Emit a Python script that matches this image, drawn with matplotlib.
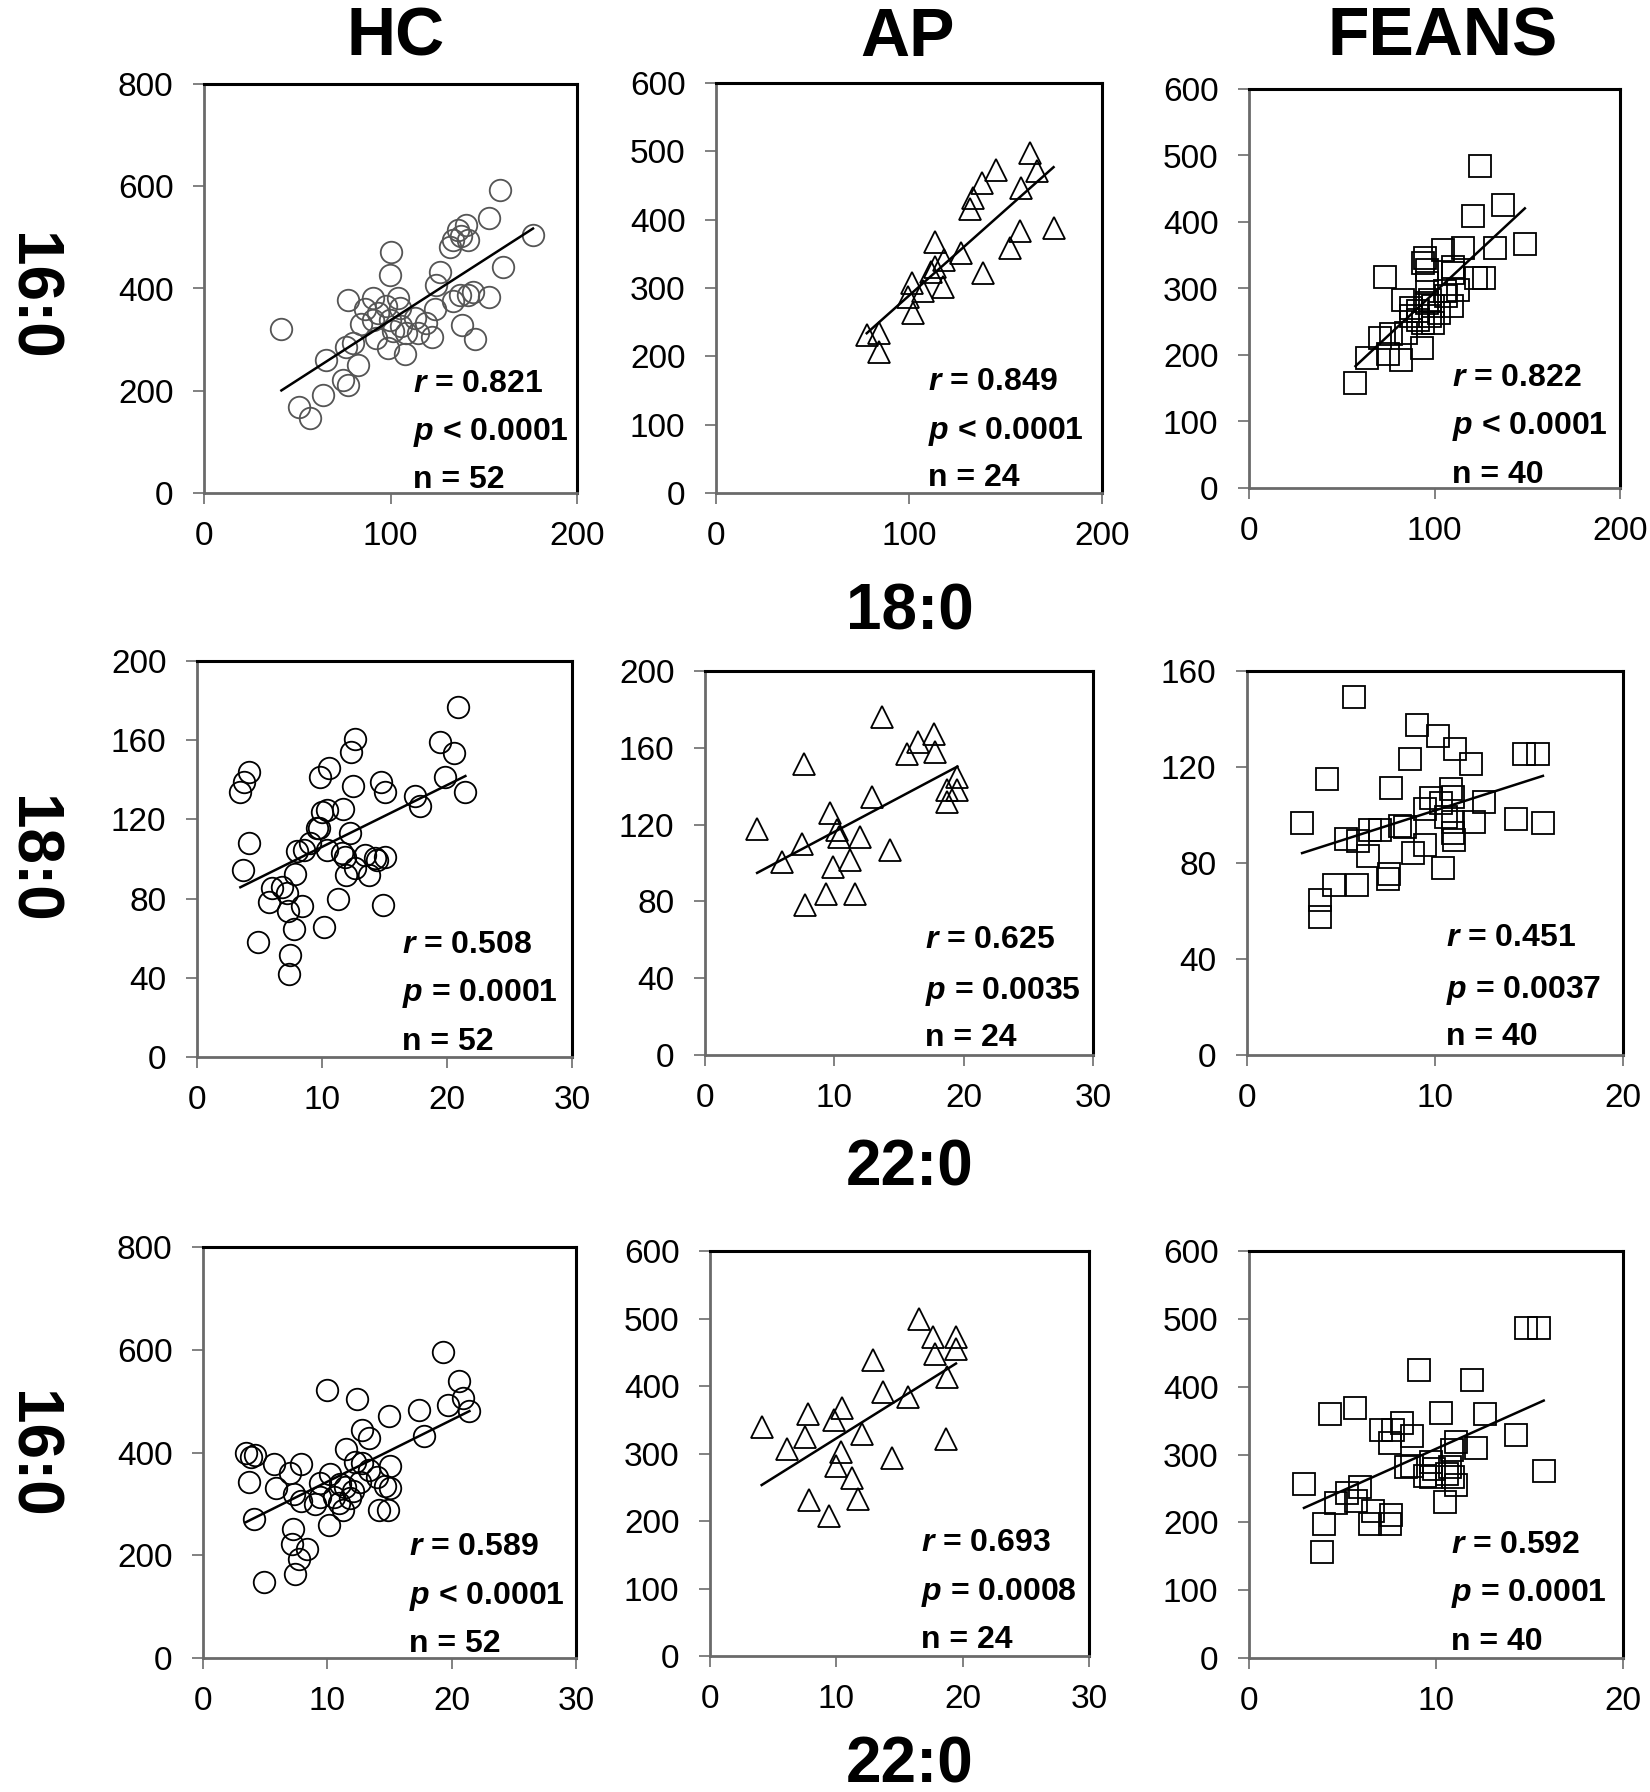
import numpy as np
import matplotlib
matplotlib.use("Agg")
import matplotlib.pyplot as plt

plt.rcParams['font.family'] = ['Liberation Sans', 'DejaVu Sans']
plt.rcParams['mathtext.fontset'] = 'custom'
plt.rcParams['mathtext.it'] = 'Liberation Sans:italic:bold'
plt.rcParams['mathtext.rm'] = 'Liberation Sans:bold'

# ---------------- data ----------------
col_titles = ["HC", "AP", "FEANS"]
row_labels = ["16:0", "18:0", "16:0"]
between_labels = ["18:0", "22:0", "22:0"]

# Row 1: 18:0 (x) vs 16:0 (y)
hc1_x = [41.5, 50.9, 57.0, 63.8, 65.2, 74.5, 77.2, 82.6, 76.3, 79.9, 77.2, 84.4, 86.1, 90.6, 92.4, 93.3,
         97.8, 99.5, 98.7, 100.4, 99.5, 104.0, 104.9, 101.3, 105.8, 107.6, 108.5, 113.0, 114.7, 122.4,
         123.7, 124.5, 126.4, 131.7, 133.5, 136.2, 140.7, 138.0, 141.6, 133.5, 137.1, 141.6, 144.2,
         138.5, 145.1, 152.8, 152.8, 158.9, 160.3, 176.4, 119.2, 90.6]
hc1_y = [321, 168, 147, 191, 261, 222, 212, 251, 285, 293, 377, 331, 359, 381, 303, 352,
         365, 339, 284, 471, 426, 381, 362, 316, 326, 271, 313, 342, 313, 306,
         360, 407, 432, 482, 495, 515, 525, 502, 495, 375, 388, 388, 394,
         329, 301, 383, 538, 593, 443, 504, 333, 339]

ap1_x = [78.1, 84.2, 84.7, 99.7, 101.4, 101.9, 107.2, 111.2, 113.4, 113.4, 117.5, 118.2, 126.9, 131.7,
         133.4, 137.8, 138.6, 145.2, 152.4, 157.3, 158.0, 162.8, 166.3, 174.9]
ap1_y = [231, 234, 207, 287, 307, 263, 295, 324, 331, 368, 302, 341, 351, 415,
         431, 453, 322, 473, 358, 383, 446, 497, 471, 388]

fe1_x = [57.4, 63.8, 73.2, 70.5, 75.0, 76.8, 81.8, 83.0, 87.1, 87.2, 93.3, 93.9, 94.8, 95.7, 96.0, 95.7,
         91.2, 91.2, 99.3, 102.5, 97.5, 104.7, 105.6, 109.2, 110.0, 115.6, 106.1, 120.9, 122.3, 124.5,
         126.6, 132.6, 136.7, 148.7, 97.5, 99.3, 93.9, 112.8, 110.0, 84.9]
fe1_y = [158, 196, 318, 226, 201, 231, 193, 283, 271, 258, 211, 338, 346, 328, 308, 278,
         266, 253, 273, 263, 283, 358, 296, 273, 333, 361, 288, 409, 316, 484,
         316, 361, 425, 367, 258, 248, 248, 298, 323, 233]

# Row 2: 22:0 (x) vs 18:0 (y)
hc2_x = [3.65, 3.47, 3.73, 4.19, 4.13, 4.88, 5.73, 6.0, 6.8, 7.2, 7.25, 7.47, 7.39, 7.79, 8.4, 7.87,
         8.0, 9.07, 9.6, 9.87, 10.0, 10.4, 10.59, 10.19, 10.4, 11.25, 11.65, 11.87, 11.95, 12.2,
         12.32, 12.45, 12.67, 12.67, 13.47, 13.73, 14.4, 14.72, 14.88, 15.07, 15.07, 17.47, 17.87,
         19.47, 19.87, 20.53, 20.85, 21.47, 11.6, 8.59, 14.27, 9.73]
hc2_y = [94.5, 133.6, 139.0, 144.0, 108.2, 58.0, 78.2, 85.2, 86.0, 82.7, 73.9, 51.3, 41.8, 64.7, 76.5, 92.4,
         104.2, 107.9, 115.8, 141.5, 123.9, 124.7, 146.2, 65.9, 104.5, 79.7, 125.5, 101.2, 91.9, 112.9,
         153.8, 137.0, 160.8, 95.3, 102.0, 91.9, 99.5, 139.0, 76.8, 133.9, 100.8, 131.8, 126.7,
         159.2, 141.5, 153.3, 176.8, 133.9, 102.9, 104.5, 100.3, 115.5]

ap2_x = [4.03, 5.99, 7.51, 7.67, 7.77, 9.32, 9.66, 9.91, 10.22, 10.38, 11.21, 11.59, 11.98, 12.88,
         13.66, 14.3, 15.6, 16.5, 17.74, 17.79, 18.69, 18.69, 19.52, 19.47]
ap2_y = [117.9, 100.6, 110.1, 151.8, 78.1, 84.1, 125.8, 98.0, 117.1, 113.6, 101.5, 84.1, 113.6, 134.4,
         176.1, 106.7, 157.0, 163.1, 167.0, 157.8, 137.9, 131.8, 144.8, 137.9]

fe2_x = [2.93, 4.26, 3.9, 3.9, 4.63, 5.69, 5.85, 5.25, 5.9, 6.44, 6.52, 7.06, 7.5, 7.55, 7.68, 8.12,
         8.39, 8.69, 8.83, 9.04, 9.45, 9.8, 10.16, 10.43, 10.34, 10.6, 10.87, 11.05, 10.96, 10.96,
         10.99, 10.96, 11.93, 12.06, 12.6, 14.29, 14.72, 15.48, 15.74, 9.45]
fe2_y = [96.7, 115.2, 64.5, 57.6, 70.8, 149.2, 70.8, 89.9, 89.2, 82.8, 93.7, 93.7, 73.5, 75.6, 111.3, 95.3,
         95.0, 123.2, 84.0, 137.3, 87.5, 106.9, 133.1, 78.1, 105.1, 99.2, 111.0, 127.7, 107.6, 97.2,
         89.5, 92.3, 121.4, 97.2, 105.5, 98.5, 125.3, 125.6, 96.7, 102.7]

# Row 3: 22:0 (x) vs 16:0 (y)
hc3_x = [3.46, 3.86, 4.2, 3.67, 4.13, 4.88, 5.73, 5.89, 6.96, 7.2, 7.15, 7.42, 7.69, 7.88, 7.29, 7.9,
         8.36, 9.03, 9.43, 9.97, 10.1, 10.23, 10.5, 10.9, 11.04, 11.3, 11.52, 11.79, 12.03, 12.24,
         12.38, 12.59, 12.78, 12.78, 13.39, 13.39, 13.98, 14.12, 14.65, 14.84, 14.92, 15.0, 15.05,
         17.41, 17.81, 19.34, 19.74, 20.55, 20.89, 21.43, 9.43, 11.44]
hc3_y = [400, 391, 395, 343, 270, 147, 378, 331, 361, 252, 222, 163, 192, 377, 320, 305,
         213, 300, 340, 522, 259, 359, 314, 301, 339, 288, 406, 311, 325, 381,
         504, 343, 444, 379, 428, 366, 353, 288, 335, 288, 472, 330, 374,
         482, 432, 595, 493, 539, 507, 480, 314, 333]

ap3_x = [4.09, 6.12, 7.52, 7.78, 7.86, 9.45, 9.82, 9.95, 10.34, 10.42, 11.21, 11.74, 12.06, 12.93,
         13.72, 14.38, 15.7, 16.54, 17.68, 17.81, 18.65, 18.73, 19.47, 19.47]
ap3_y = [339, 306, 325, 358, 231, 207, 349, 281, 302, 368, 263, 233, 329, 438,
         391, 293, 384, 500, 473, 448, 322, 413, 473, 455]

fe3_x = [2.94, 4.01, 3.92, 4.31, 4.67, 5.24, 5.65, 5.74, 5.92, 6.45, 6.63, 7.08, 7.52, 7.56, 7.58,
         7.7, 8.18, 8.41, 8.73, 8.73, 9.09, 9.39, 9.75, 9.75, 9.88, 10.25, 10.46, 10.59, 10.77,
         10.86, 10.91, 11.09, 11.09, 11.94, 12.16, 12.6, 14.3, 14.8, 15.51, 15.76]
fe3_y = [257, 197, 157, 359, 228, 243, 368, 231, 252, 198, 216, 336, 317, 198, 211,
         336, 346, 282, 328, 283, 425, 269, 267, 289, 278, 361, 230, 271, 281,
         306, 267, 255, 318, 410, 310, 360, 329, 486, 486, 275]

r_values = ["0.821", "0.849", "0.822", "0.508", "0.625", "0.451", "0.589", "0.693", "0.592"]
p_values = ["< 0.0001", "< 0.0001", "< 0.0001", "= 0.0001", "= 0.0035", "= 0.0037",
            "< 0.0001", "= 0.0008", "= 0.0001"]
n_values = ["52", "24", "40", "52", "24", "40", "52", "24", "40"]

panels_x = [hc1_x, ap1_x, fe1_x, hc2_x, ap2_x, fe2_x, hc3_x, ap3_x, fe3_x]
panels_y = [hc1_y, ap1_y, fe1_y, hc2_y, ap2_y, fe2_y, hc3_y, ap3_y, fe3_y]

x_ticks = [[0, 100, 200], [0, 100, 200], [0, 100, 200],
           [0, 10, 20, 30], [0, 10, 20, 30], [0, 10, 20],
           [0, 10, 20, 30], [0, 10, 20, 30], [0, 10, 20]]
y_ticks = [[0, 200, 400, 600, 800], [0, 100, 200, 300, 400, 500, 600], [0, 100, 200, 300, 400, 500, 600],
           [0, 40, 80, 120, 160, 200], [0, 40, 80, 120, 160, 200], [0, 40, 80, 120, 160],
           [0, 200, 400, 600, 800], [0, 100, 200, 300, 400, 500, 600], [0, 100, 200, 300, 400, 500, 600]]

# ---------------- layout (pixels in a 1650x1792 canvas) ----------------
W, H = 1650, 1792
boxes = [  # left, right, top, bottom
    (204, 577, 84, 493), (716, 1102, 83, 493), (1249, 1620, 89, 488),
    (197, 572, 661, 1057), (705, 1093, 671, 1055), (1247, 1623, 671, 1055),
    (203, 576, 1247, 1658), (710, 1089, 1251, 1656), (1249, 1623, 1251, 1658),
]
text_pos = [  # x frac, y frac of r, p, n lines
    (0.56, 0.267, 0.147, 0.032), (0.55, 0.271, 0.149, 0.036), (0.546, 0.276, 0.154, 0.033),
    (0.547, 0.283, 0.161, 0.039), (0.567, 0.299, 0.165, 0.043), (0.528, 0.304, 0.169, 0.048),
    (0.551, 0.27, 0.149, 0.035), (0.558, 0.278, 0.158, 0.039), (0.541, 0.277, 0.158, 0.039),
]
markers = ['o', '^', 's'] * 3
edge_cols = ['#555555', 'black', 'black'] + ['black'] * 6

fig = plt.figure(figsize=(W / 100, H / 100), dpi=100)
for i in range(9):
    l, r, t, b = boxes[i]
    ax = fig.add_axes([l / W, 1 - b / H, (r - l) / W, (b - t) / H])
    x = np.array(panels_x[i], dtype=float)
    y = np.array(panels_y[i], dtype=float)
    ax.plot(x, y, linestyle='none', marker=markers[i], markersize=16 if markers[i] != 'o' else 15.5,
            markerfacecolor='none', markeredgecolor=edge_cols[i], markeredgewidth=1.3, clip_on=False)
    k, c = np.polyfit(x, y, 1)
    xl = np.array([x.min(), x.max()])
    ax.plot(xl, k * xl + c, color='black', lw=1.8)
    ax.set_xlim(x_ticks[i][0], x_ticks[i][-1])
    ax.set_ylim(y_ticks[i][0], y_ticks[i][-1])
    ax.set_xticks(x_ticks[i])
    ax.set_yticks(y_ticks[i])
    ax.tick_params(axis='both', direction='out', length=8, width=1.3, color='#777777',
                   labelsize=24, labelcolor='black')
    ax.tick_params(axis='y', pad=14)
    ax.tick_params(axis='x', pad=12)
    for s in ['left', 'bottom']:
        ax.spines[s].set_color('#6a6a6a')
        ax.spines[s].set_linewidth(2)
    for s in ['top', 'right']:
        ax.spines[s].set_color('black')
        ax.spines[s].set_linewidth(2.2)
    tx, ry, py, ny = text_pos[i]
    ax.text(tx, ry, "$r$ = " + r_values[i], transform=ax.transAxes, fontsize=23,
            fontweight='bold', va='center', ha='left')
    ax.text(tx, py, "$p$ " + p_values[i], transform=ax.transAxes, fontsize=23,
            fontweight='bold', va='center', ha='left')
    ax.text(tx, ny, "n = " + n_values[i], transform=ax.transAxes, fontsize=23,
            fontweight='bold', va='center', ha='left')

# column titles
for cx, t in zip([396, 908, 1443], col_titles):
    fig.text(cx / W, 1 - 38 / H, t, fontsize=49, fontweight='bold', ha='center', va='center')
# row labels (left)
for cy, t in zip([297, 860, 1455], row_labels):
    fig.text(30 / W, 1 - cy / H, t, fontsize=46, fontweight='bold', ha='center', va='center',
             rotation=270)
# x variable labels between rows
for cy, t in zip([612, 1168, 1765], between_labels):
    fig.text(910 / W, 1 - cy / H, t, fontsize=46, fontweight='bold', ha='center', va='center')

fig.savefig("out.png", dpi=100, facecolor='white')
